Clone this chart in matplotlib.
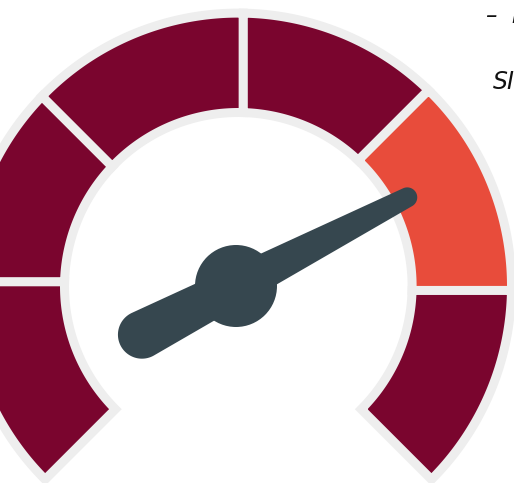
import numpy as np
import matplotlib
matplotlib.use("Agg")
import matplotlib.pyplot as plt
from matplotlib.patches import Polygon, Circle

# ---- data ----
gauge_min = 0
gauge_max = 100
band_edges = [0, 16.67, 33.33, 50, 66.67, 83.33, 100]
band_colors = ["#7a052e", "#7a052e", "#7a052e", "#7a052e", "#e84c3b", "#7a052e"]
needle_value = 73.2
title_lines = ["–  I", "SI"]

# ---- style / layout ----
W, H = 514, 483
BORDER = "#eeeeee"
NEEDLE = "#36474f"
cx, cy = 238.3, 286.3          # gauge centre (pixels)
r_out, r_in = 273.2, 173.8     # band edge radii
start_deg, end_deg = 225.0, -45.0
gap_shift_px = [0, -4.6, 4.4, -5.0, 4.2, -4.2, 0]
stroke_px = 9.0
px2pt = 72.0 / 100.0

fig = plt.figure(figsize=(W / 100, H / 100), dpi=100)
ax = fig.add_axes([0, 0, 1, 1])
ax.set_xlim(0, W)
ax.set_ylim(H, 0)
ax.set_aspect("equal")
ax.axis("off")


def val2deg(v):
    return start_deg + (v - gauge_min) / (gauge_max - gauge_min) * (end_deg - start_deg)


def pt(r, deg):
    t = np.radians(deg)
    return cx + r * np.cos(t), cy - r * np.sin(t)


for i, col in enumerate(band_colors):
    a = val2deg(band_edges[i])
    b = val2deg(band_edges[i + 1])
    da, db = gap_shift_px[i], gap_shift_px[i + 1]
    ao = a + np.degrees(np.arcsin(da / r_out))
    bo = b + np.degrees(np.arcsin(db / r_out))
    ai = a + np.degrees(np.arcsin(da / r_in))
    bi = b + np.degrees(np.arcsin(db / r_in))
    outer = [pt(r_out, d) for d in np.linspace(ao, bo, 80)]
    inner = [pt(r_in, d) for d in np.linspace(bi, ai, 80)]
    poly = Polygon(outer + inner, closed=True, facecolor=col, edgecolor=BORDER,
                   linewidth=stroke_px * px2pt, joinstyle="miter", zorder=2)
    ax.add_patch(poly)

# ---- needle ----
px_, py_ = 236.0, 286.0
theta = np.radians(val2deg(needle_value))
u = np.array([np.cos(theta), -np.sin(theta)])
n = np.array([-u[1], u[0]])
L_tail, L_tip = 105.9, 192.8
r1, r2 = 24.0, 10.0
C1 = np.array([px_, py_]) - L_tail * u
C2 = np.array([px_, py_]) + L_tip * u
D = L_tail + L_tip
alpha = np.arccos((r1 - r2) / D)
pts = []
for phi in np.linspace(-alpha, alpha, 60):
    pts.append(C2 + r2 * (np.cos(phi) * u + np.sin(phi) * n))
for phi in np.linspace(alpha, 2 * np.pi - alpha, 120):
    pts.append(C1 + r1 * (np.cos(phi) * u + np.sin(phi) * n))
ax.add_patch(Polygon(pts, closed=True, facecolor=NEEDLE, edgecolor="none", zorder=5))
ax.add_patch(Circle((px_, py_), 41, facecolor=NEEDLE, edgecolor="none", zorder=6))

# ---- clipped title text ----
ax.text(486, 23, title_lines[0], fontsize=16.5, style="oblique", family=["DejaVu Sans"],
        ha="left", va="baseline", color="#111111")
ax.text(493, 89, title_lines[1], fontsize=17, style="oblique", family=["DejaVu Sans"],
        ha="left", va="baseline", color="#111111")

fig.savefig("out.png", dpi=100)
